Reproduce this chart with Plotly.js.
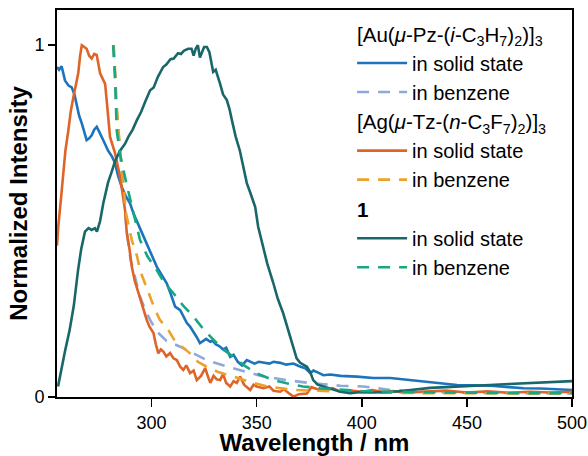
<!DOCTYPE html>
<html>
<head>
<meta charset="utf-8">
<script src="https://cdn.plot.ly/plotly-3.0.1.min.js"></script>
<style>html,body{margin:0;padding:0;background:#fff;}#chart{width:588px;height:456px;}</style>
</head>
<body>
<div id="chart"></div>
<script>
// Compound 1, solid state
const x1Solid = [255.5,257,258.8,261,263,265,266.5,268.3,270,271.5,273,274,275.5,277,279.3,281,282.6,285,287.4,289,291,293,295,297,299.3,301,303,305.5,307,309,310.5,312.6,314,315.5,317.4,319,320,321,322,323,324,325,326.3,327.5,329.3,330.5,332.6,334,335.8,337,338.2,340,342,343.5,345.3,347,349.3,350.7,352.5,355,357.9,360,362.6,365,367.4,369,370.7,372.5,373.9,375.5,376.9,379,381.7,385,389.8,394.5,400,405,413.6,420,425,432.6,440,450,461,470,480,490,500];
const y1Solid = [0.03,0.08,0.13,0.19,0.26,0.36,0.42,0.47,0.48,0.475,0.48,0.47,0.50,0.55,0.61,0.64,0.67,0.70,0.72,0.74,0.76,0.787,0.81,0.84,0.872,0.88,0.91,0.938,0.945,0.96,0.962,0.977,0.975,0.985,0.99,0.99,0.97,0.99,1.0,0.965,0.98,0.995,0.995,0.98,0.924,0.93,0.89,0.86,0.844,0.82,0.787,0.74,0.70,0.66,0.608,0.58,0.54,0.484,0.437,0.38,0.324,0.28,0.238,0.19,0.142,0.11,0.097,0.09,0.086,0.07,0.048,0.035,0.03,0.022,0.015,0.011,0.014,0.013,0.014,0.018,0.022,0.026,0.028,0.03,0.034,0.037,0.04,0.042,0.045];

// Compound 1, benzene
const x1Benz = [281.7,282.6,283.4,285,287.9,290.2,291.3,294.5,298,302.5,306,310.4,315,320,325,329.5,334,339,344,350,357,364.2,372,380,390,400,420,450,475,500];
const y1Benz = [1.0,0.915,0.758,0.69,0.61,0.55,0.53,0.446,0.40,0.36,0.325,0.295,0.26,0.228,0.19,0.162,0.135,0.114,0.09,0.067,0.05,0.039,0.03,0.025,0.02,0.017,0.014,0.012,0.011,0.011];

// [Au(μ-Pz-(i-C3H7)2)]3, solid state
const xAuSolid = [255,256,257.2,258.8,260.5,262,263.3,264.4,265.5,266.8,268,269.1,270.3,271.5,272.7,273.9,275,276.3,277.8,279.3,281,282.6,284,285.8,287.8,289.8,291.5,293.7,295.5,297.7,300,302.5,305,307.2,309,311.2,313.6,315,316.8,318.3,320,321.5,323,324.5,326,327.9,329,330.5,332.6,334,335.5,337.4,339,341,343,345.3,347,349,351,353.2,356,358,361.2,364,367.5,370,373,375.5,377,379,381.7,385,390,397.7,405.5,413.6,420,429.3,437,445.3,453,461.3,470,477,485,492,500];
const yAuSolid = [0.938,0.93,0.94,0.90,0.885,0.88,0.86,0.825,0.80,0.778,0.75,0.73,0.735,0.744,0.76,0.768,0.755,0.74,0.72,0.70,0.685,0.665,0.63,0.597,0.57,0.55,0.52,0.49,0.465,0.437,0.40,0.37,0.345,0.323,0.295,0.257,0.247,0.23,0.21,0.20,0.185,0.17,0.153,0.16,0.165,0.157,0.16,0.15,0.143,0.135,0.14,0.114,0.12,0.10,0.09,0.105,0.10,0.095,0.10,0.097,0.095,0.10,0.097,0.092,0.095,0.088,0.082,0.068,0.075,0.07,0.062,0.064,0.06,0.058,0.054,0.054,0.05,0.044,0.04,0.034,0.033,0.032,0.028,0.025,0.024,0.022,0.02];

// [Au(μ-Pz-(i-C3H7)2)]3, benzene
const xAuBenz = [281.9,283,284,286,288.2,290,292,294.5,297,299.3,302.5,307,313.6,320,326.2,334,342.1,352,364.2,375,389.8,400.7,413.6,430,450,475,500];
const yAuBenz = [1.0,0.85,0.77,0.62,0.47,0.39,0.34,0.285,0.247,0.219,0.186,0.16,0.143,0.123,0.105,0.09,0.077,0.06,0.048,0.04,0.032,0.03,0.02,0.015,0.012,0.01,0.01];

// [Ag(μ-Tz-(n-C3F7)2)]3, solid state
const xAgSolid = [255,255.6,257,258,259,260.4,261.5,262.8,264,265.1,266,266.8,268,269.1,270.3,271.5,272.7,273.9,275.5,277,277.9,279,280.2,282.6,285,287.4,288.2,289.5,290.6,292,293.7,295.5,297.7,299,300.9,302,303.2,304.4,305.6,307,308.8,310.4,312,313.6,315.1,316.5,318.3,320,321.5,323.5,325.5,327,327.9,329.5,331,332.6,334,335.5,337.4,339,340.5,342.1,344,346.9,348.5,350,353.2,356,358,361.2,363,365,367.5,370,373.9,376,378,380,383.4,386,390,395,400,405,410,415,420,430,440,450,460,470,480,490,500];
const yAgSolid = [0.43,0.484,0.57,0.636,0.70,0.758,0.81,0.853,0.89,0.92,0.97,1.0,0.995,0.99,0.97,0.962,0.975,0.972,0.92,0.90,0.89,0.82,0.74,0.693,0.626,0.53,0.466,0.42,0.37,0.33,0.295,0.26,0.219,0.20,0.182,0.15,0.124,0.135,0.129,0.115,0.125,0.11,0.105,0.086,0.077,0.09,0.068,0.075,0.048,0.06,0.082,0.055,0.04,0.06,0.05,0.048,0.065,0.04,0.03,0.045,0.04,0.058,0.035,0.02,0.035,0.03,0.025,0.03,0.018,0.015,0.022,0.012,0.001,0.008,0.01,0.028,0.025,0.02,0.02,0.025,0.015,0.018,0.015,0.02,0.014,0.017,0.012,0.015,0.018,0.013,0.016,0.012,0.015,0.013,0.015];

// [Ag(μ-Tz-(n-C3F7)2)]3, benzene
const xAgBenz = [282,283.5,285,286.5,287.9,290.6,293.1,294.5,297,299.3,301.7,304,308,311,318.3,322,326.2,332,339,347,354.9,367.5,380,400,430,460,500];
const yAgBenz = [1.0,0.82,0.70,0.60,0.52,0.446,0.40,0.36,0.32,0.284,0.247,0.219,0.19,0.16,0.124,0.10,0.086,0.07,0.058,0.042,0.03,0.02,0.017,0.013,0.011,0.01,0.01];

const xTicks = [300,350,400,450,500];
const yTicks = [0,1];
const yTickText = ['0','1'];

const groupAu = '[Au(<i>μ</i>-Pz-(<i>i</i>-C<sub>3</sub>H<sub>7</sub>)<sub>2</sub>)]<sub>3</sub>';
const groupAg = '[Ag(<i>μ</i>-Tz-(<i>n</i>-C<sub>3</sub>F<sub>7</sub>)<sub>2</sub>)]<sub>3</sub>';
const group1 = '<b>1</b>';

const FONT = 'Liberation Sans, Arial, Helvetica, sans-serif';
const DASH = '12px,9px';

function tr(x, y, name, color, dash, group, gtitle) {
  return {
    x: x, y: y, type: 'scatter', mode: 'lines', name: name,
    line: {color: color, width: 2.6, dash: dash},
    legendgroup: group,
    legendgrouptitle: {text: gtitle, font: {size: 20.5, color: '#000', family: FONT}},
    hoverinfo: 'skip'
  };
}

const traces = [
  tr(xAuSolid, yAuSolid, 'in solid state', '#1C74BC', 'solid', 'au', groupAu),
  tr(xAuBenz, yAuBenz, 'in benzene', '#8EA9D9', DASH, 'au', groupAu),
  tr(xAgSolid, yAgSolid, 'in solid state', '#DF6428', 'solid', 'ag', groupAg),
  tr(xAgBenz, yAgBenz, 'in benzene', '#EDA12A', DASH, 'ag', groupAg),
  tr(x1Solid, y1Solid, 'in solid state', '#1A676A', 'solid', 'c1', group1),
  tr(x1Benz, y1Benz, 'in benzene', '#17A883', DASH, 'c1', group1)
];

const layout = {
  width: 588, height: 456,
  margin: {l: 57, r: 16, t: 10, b: 59},
  paper_bgcolor: '#fff', plot_bgcolor: '#fff',
  font: {family: FONT, color: '#000', size: 18},
  showlegend: true,
  legend: {
    x: 0.573, y: 0.99, xanchor: 'left', yanchor: 'top',
    bgcolor: 'rgba(0,0,0,0)', borderwidth: 0,
    font: {size: 20, family: FONT, color: '#000'},
    tracegroupgap: 0, traceorder: 'grouped', itemwidth: 50
  },
  xaxis: {
    range: [255, 500], tickvals: xTicks, ticks: 'outside', ticklen: 8, tickwidth: 1.5,
    tickcolor: '#000', showline: true, linecolor: '#000', linewidth: 2, mirror: true,
    showgrid: false, zeroline: false, tickfont: {size: 18},
    title: {text: '<b>Wavelength / nm</b>', font: {size: 24}, standoff: 7},
    automargin: false
  },
  yaxis: {
    range: [0, 1.1], tickvals: yTicks, ticktext: yTickText, ticks: 'outside', ticklen: 7, tickwidth: 1.5,
    tickcolor: '#000', showline: true, linecolor: '#000', linewidth: 2, mirror: true,
    showgrid: false, zeroline: false, tickfont: {size: 18},
    title: {text: '<b>Normalized Intensity</b>\u00A0\u00A0\u00A0\u00A0', font: {size: 24}, standoff: 0},
    automargin: false
  }
};

Plotly.newPlot('chart', traces, layout, {staticPlot: true, displayModeBar: false});
</script>
</body>
</html>
